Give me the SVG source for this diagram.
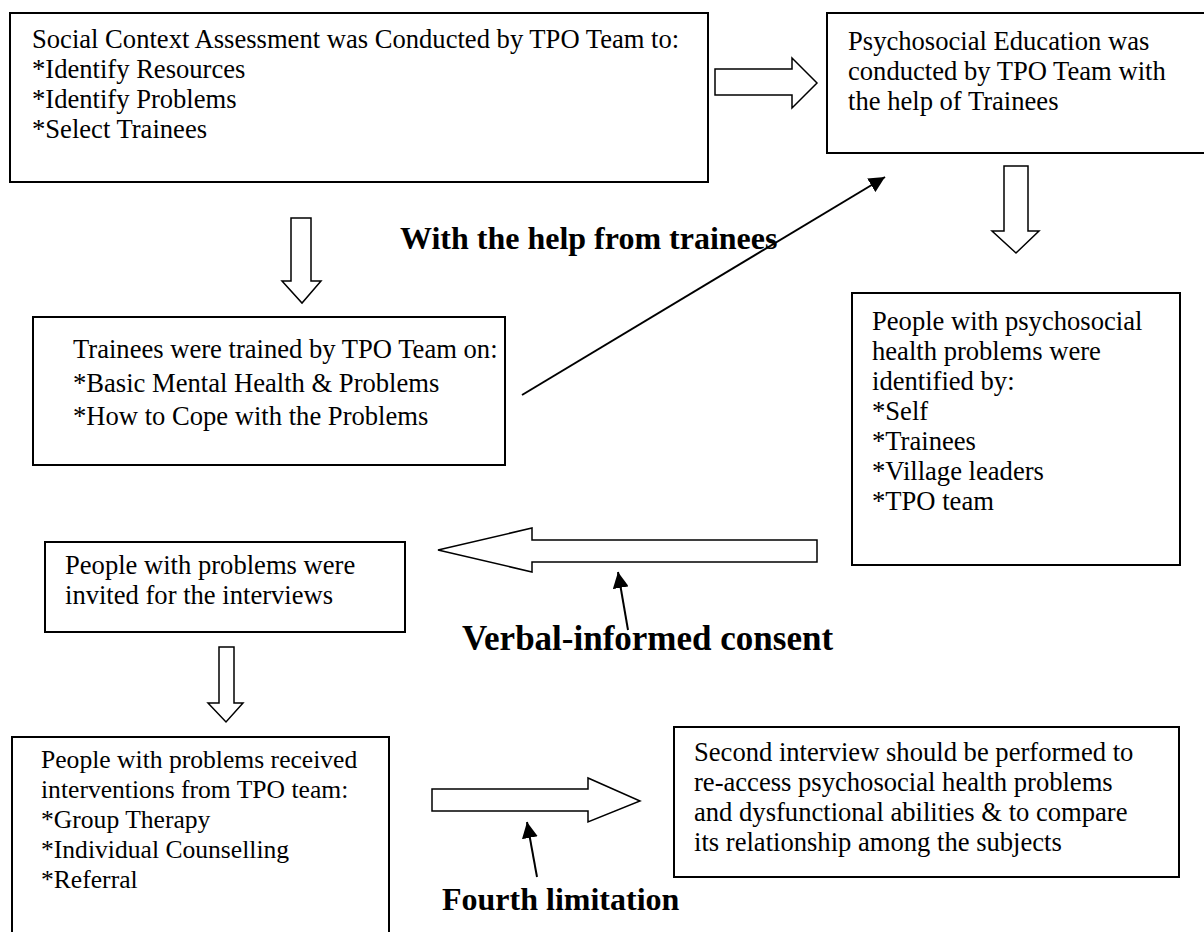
<svg xmlns="http://www.w3.org/2000/svg" width="1204" height="932" viewBox="0 0 1204 932">
<defs>
<style>
.box{fill:#fff;stroke:#000;stroke-width:2}
.blk{fill:#fff;stroke:#000;stroke-width:1.5;stroke-linejoin:miter}
.t{font-family:"Liberation Serif","Times New Roman",serif;font-size:26.6px;fill:#000}
.t6{font-size:25.6px}
.b{font-family:"Liberation Serif","Times New Roman",serif;font-size:32px;font-weight:bold;fill:#000}
.ln{stroke:#000;stroke-width:2;fill:none}
</style>
<marker id="ahs" viewBox="0 0 10 10" refX="10" refY="5" markerWidth="8" markerHeight="8" orient="auto">
<path d="M0,0 L10,5 L0,10 z" fill="#000"/>
</marker>
</defs>
<rect width="1204" height="932" fill="#fff"/>

<g id="connectors">
<path class="blk" d="M715,69 L792,69 L792,58 L817,83 L792,108 L792,95 L715,95 Z"/>
<path class="blk" d="M291,218 L311,218 L311,281 L321,281 L302,303 L282,281 L291,281 Z"/>
<path class="blk" d="M1004,166 L1028,166 L1028,231 L1039,231 L1016,253 L992,231 L1004,231 Z"/>
<path class="blk" d="M817,540 L817,562 L532,562 L532,572 L438,550 L532,528 L532,540 Z"/>
<path class="blk" d="M219,647 L234,647 L234,703 L243,703 L226,722 L208,703 L219,703 Z"/>
<path class="blk" d="M432,789 L588,789 L588,778 L640,801 L588,822 L588,811 L432,811 Z"/>
<line class="ln" x1="522" y1="395" x2="885" y2="177" marker-end="url(#ahs)"/>
<line class="ln" x1="628" y1="630" x2="618" y2="572" marker-end="url(#ahs)"/>
<line class="ln" x1="537" y1="877" x2="527" y2="822" marker-end="url(#ahs)"/>
</g>

<g id="label-help">
<text class="b" x="400" y="249">With the help from trainees</text>
</g>
<g id="label-consent">
<text class="b" x="462" y="650" style="font-size:35px">Verbal-informed consent</text>
</g>
<g id="label-fourth">
<text class="b" x="442" y="910">Fourth limitation</text>
</g>

<g id="n1">
<rect class="box" x="10" y="13" width="698" height="169"/>
<text class="t" x="32" y="48">Social Context Assessment was Conducted by TPO Team to:</text>
<text class="t" x="32" y="78">*Identify Resources</text>
<text class="t" x="32" y="108">*Identify Problems</text>
<text class="t" x="32" y="138">*Select Trainees</text>
</g>

<g id="n2">
<rect class="box" x="827" y="13" width="380" height="140"/>
<text class="t" x="848" y="50">Psychosocial Education was</text>
<text class="t" x="848" y="80">conducted by TPO Team with</text>
<text class="t" x="848" y="110">the help of Trainees</text>
</g>

<g id="n3">
<rect class="box" x="33" y="317" width="472" height="148"/>
<text class="t" x="73" y="358">Trainees were trained by TPO Team on:</text>
<text class="t" x="73" y="392">*Basic Mental Health &amp; Problems</text>
<text class="t" x="73" y="425">*How to Cope with the Problems</text>
</g>

<g id="n4">
<rect class="box" x="852" y="293" width="328" height="272"/>
<text class="t" x="872" y="330">People with psychosocial</text>
<text class="t" x="872" y="360">health problems were</text>
<text class="t" x="872" y="390">identified by:</text>
<text class="t" x="872" y="420">*Self</text>
<text class="t" x="872" y="450">*Trainees</text>
<text class="t" x="872" y="480">*Village leaders</text>
<text class="t" x="872" y="510">*TPO team</text>
</g>

<g id="n5">
<rect class="box" x="45" y="542" width="360" height="90"/>
<text class="t" x="65" y="574">People with problems were</text>
<text class="t" x="65" y="604">invited for the interviews</text>
</g>

<g id="n6">
<rect class="box" x="12" y="737" width="377" height="210"/>
<text class="t t6" x="41" y="768">People with problems received</text>
<text class="t t6" x="41" y="798">interventions from TPO team:</text>
<text class="t t6" x="41" y="828">*Group Therapy</text>
<text class="t t6" x="41" y="858">*Individual Counselling</text>
<text class="t t6" x="41" y="888">*Referral</text>
</g>

<g id="n7">
<rect class="box" x="674" y="727" width="505" height="150"/>
<text class="t" x="694" y="761">Second interview should be performed to</text>
<text class="t" x="694" y="791">re-access psychosocial health problems</text>
<text class="t" x="694" y="821">and dysfunctional abilities &amp; to compare</text>
<text class="t" x="694" y="851">its relationship among the subjects</text>
</g>
</svg>
